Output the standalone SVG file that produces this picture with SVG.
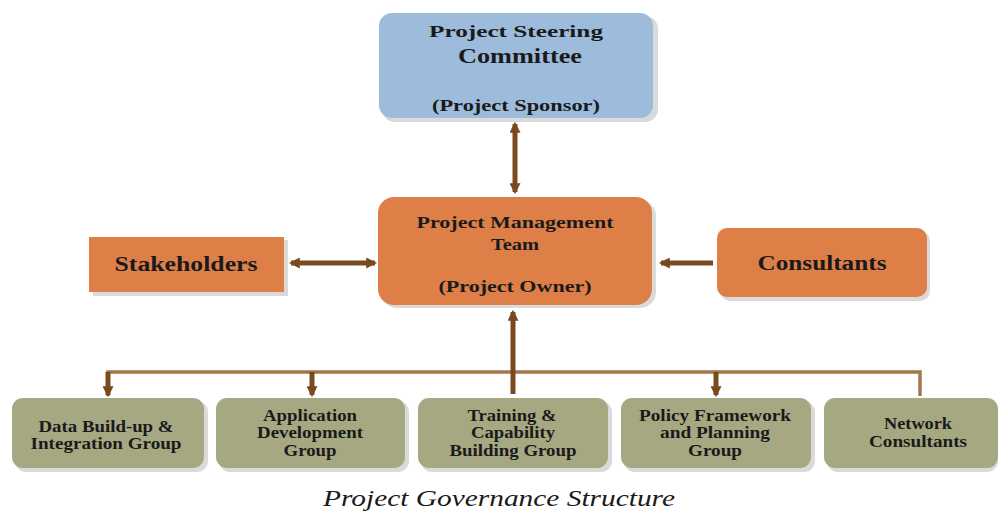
<svg xmlns="http://www.w3.org/2000/svg" width="998" height="512" viewBox="0 0 998 512">
  <style>
    .lbl { font-family: "Liberation Serif", "Times New Roman", serif; font-weight: bold; fill: #1a1a1a; text-anchor: middle; }
    .s15 { font-size: 15px; }
    .s16 { font-size: 16px; }
    .s17 { font-size: 17px; }
    .s20 { font-size: 20px; }
    .blue { fill: #9dbbdb; }
    .orange { fill: #de7f48; }
    .olive { fill: #a6a882; }
    .shadow { fill: #dadada; }
    .link { stroke: #7a4a1f; stroke-width: 5; fill: none; }
    .bus { stroke: #a3764e; stroke-width: 3.5; fill: none; }
    .caption { font-family: "Liberation Serif", "Times New Roman", serif; font-style: italic; font-size: 24px; fill: #1a1a1a; text-anchor: middle; }
  </style>
  <defs>
    <marker id="head" viewBox="0 0 10 10" refX="8" refY="5" markerWidth="2.2" markerHeight="2.2" orient="auto-start-reverse">
      <path d="M0,0 L10,5 L0,10 z" fill="#7a4a1f"/>
    </marker>
  </defs>
  <rect width="998" height="512" fill="#ffffff"/>

  <!-- connectors -->
  <g id="connectors">
    <line class="link" x1="515" y1="124" x2="515" y2="192" marker-start="url(#head)" marker-end="url(#head)"/>
    <line class="link" x1="291" y1="263" x2="375" y2="263" marker-start="url(#head)" marker-end="url(#head)"/>
    <line class="link" x1="713" y1="263" x2="661" y2="263" marker-end="url(#head)"/>
    <polyline class="bus" points="108,396 108,372 920,372 920,396"/>
    <line class="link" x1="513" y1="394" x2="513" y2="312" marker-end="url(#head)"/>
    <line class="link" x1="108" y1="372" x2="108" y2="395" marker-end="url(#head)"/>
    <line class="link" x1="312" y1="372" x2="312" y2="395" marker-end="url(#head)"/>
    <line class="link" x1="716" y1="372" x2="716" y2="395" marker-end="url(#head)"/>
  </g>

  <!-- top node -->
  <g id="steering">
    <rect class="shadow" x="382" y="16" width="276" height="106" rx="13"/>
    <rect class="blue" x="379" y="13" width="274" height="105" rx="13"/>
    <text class="lbl s17" x="516" y="37" textLength="174" lengthAdjust="spacingAndGlyphs">Project Steering</text>
    <text class="lbl s20" x="520" y="63" textLength="124" lengthAdjust="spacingAndGlyphs">Committee</text>
    <text class="lbl s16" x="516" y="111" textLength="168" lengthAdjust="spacingAndGlyphs">(Project Sponsor)</text>
  </g>

  <!-- middle node -->
  <g id="management">
    <rect class="shadow" x="381" y="200" width="275" height="108" rx="16"/>
    <rect class="orange" x="378" y="197" width="274" height="108" rx="16"/>
    <text class="lbl s16" x="515" y="228" textLength="197" lengthAdjust="spacingAndGlyphs">Project Management</text>
    <text class="lbl s16" x="515" y="250" textLength="48" lengthAdjust="spacingAndGlyphs">Team</text>
    <text class="lbl s16" x="515" y="292" textLength="153" lengthAdjust="spacingAndGlyphs">(Project Owner)</text>
  </g>

  <g id="stakeholders">
    <rect class="shadow" x="93" y="240" width="195" height="56"/>
    <rect class="orange" x="89" y="237" width="195" height="55"/>
    <text class="lbl s20" x="186" y="271" textLength="143" lengthAdjust="spacingAndGlyphs">Stakeholders</text>
  </g>

  <g id="consultants">
    <rect class="shadow" x="720" y="231" width="210" height="70" rx="10"/>
    <rect class="orange" x="717" y="228" width="210" height="69" rx="10"/>
    <text class="lbl s20" x="822" y="270" textLength="129" lengthAdjust="spacingAndGlyphs">Consultants</text>
  </g>

  <!-- working groups -->
  <g id="data-group">
    <rect class="shadow" x="15" y="401" width="193" height="71" rx="11"/>
    <rect class="olive" x="12" y="398" width="192" height="70" rx="11"/>
    <text class="lbl s16" x="106" y="432" textLength="135" lengthAdjust="spacingAndGlyphs">Data Build-up &amp;</text>
    <text class="lbl s16" x="106" y="449" textLength="151" lengthAdjust="spacingAndGlyphs">Integration Group</text>
  </g>
  <g id="app-group">
    <rect class="shadow" x="219" y="401" width="190" height="71" rx="11"/>
    <rect class="olive" x="216" y="398" width="189" height="70" rx="11"/>
    <text class="lbl s16" x="310" y="421" textLength="94" lengthAdjust="spacingAndGlyphs">Application</text>
    <text class="lbl s16" x="310" y="438" textLength="106" lengthAdjust="spacingAndGlyphs">Development</text>
    <text class="lbl s16" x="310" y="456" textLength="53" lengthAdjust="spacingAndGlyphs">Group</text>
  </g>
  <g id="training-group">
    <rect class="shadow" x="421" y="401" width="191" height="71" rx="11"/>
    <rect class="olive" x="418" y="398" width="190" height="70" rx="11"/>
    <text class="lbl s16" x="512" y="421" textLength="89" lengthAdjust="spacingAndGlyphs">Training &amp;</text>
    <text class="lbl s16" x="513" y="438" textLength="84" lengthAdjust="spacingAndGlyphs">Capability</text>
    <text class="lbl s16" x="513" y="456" textLength="127" lengthAdjust="spacingAndGlyphs">Building Group</text>
  </g>
  <g id="policy-group">
    <rect class="shadow" x="624" y="401" width="191" height="71" rx="11"/>
    <rect class="olive" x="621" y="398" width="190" height="70" rx="11"/>
    <text class="lbl s16" x="715" y="421" textLength="152" lengthAdjust="spacingAndGlyphs">Policy Framework</text>
    <text class="lbl s16" x="715" y="438" textLength="110" lengthAdjust="spacingAndGlyphs">and Planning</text>
    <text class="lbl s16" x="715" y="456" textLength="54" lengthAdjust="spacingAndGlyphs">Group</text>
  </g>
  <g id="network-group">
    <rect class="shadow" x="827" y="401" width="171" height="71" rx="11"/>
    <rect class="olive" x="824" y="398" width="174" height="70" rx="11"/>
    <text class="lbl s16" x="918" y="429" textLength="68" lengthAdjust="spacingAndGlyphs">Network</text>
    <text class="lbl s16" x="918" y="447" textLength="98" lengthAdjust="spacingAndGlyphs">Consultants</text>
  </g>

  <text class="caption" x="499" y="506" textLength="352" lengthAdjust="spacingAndGlyphs">Project Governance Structure</text>
</svg>
